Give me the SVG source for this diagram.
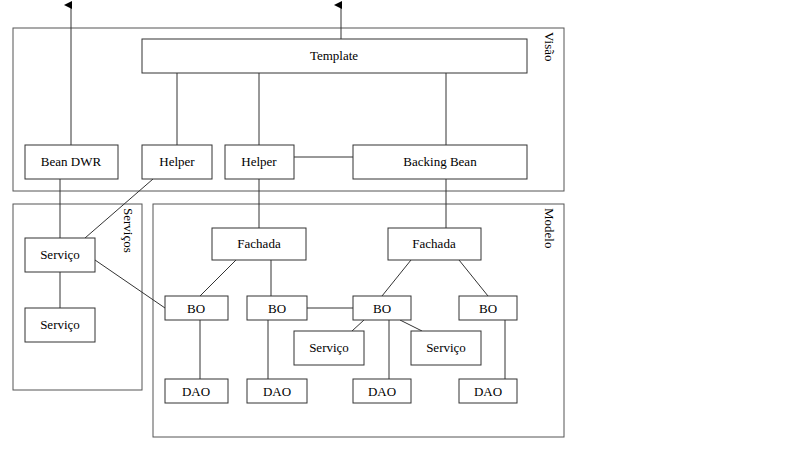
<svg xmlns="http://www.w3.org/2000/svg" width="800" height="449" viewBox="0 0 800 449">
<style>
.b{fill:#fff;stroke:#333;stroke-width:1}
.f{fill:none;stroke:#555;stroke-width:1}
text{font-family:"Liberation Serif",serif;font-size:13px;fill:#000;text-anchor:middle}
.r{text-anchor:start}
#c line{stroke:#333;stroke-width:1}
</style>
<defs><marker id="a" markerWidth="8" markerHeight="8" refX="4" refY="7" orient="auto" markerUnits="userSpaceOnUse"><path d="M0,8L4,0L8,8Z" fill="#000"/></marker></defs>
<rect width="800" height="449" fill="#fff"/>
<g id="visao"><rect class="f" x="13" y="28" width="551" height="163"/><text class="r" transform="translate(545,32) rotate(90)">Visão</text></g>
<g id="servicos"><rect class="f" x="13" y="204" width="129" height="186"/><text class="r" transform="translate(124,208) rotate(90)">Serviços</text></g>
<g id="modelo"><rect class="f" x="153" y="204" width="411" height="233"/><text class="r" transform="translate(545,208) rotate(90)">Modelo</text></g>
<g id="c">
<line x1="71" y1="145" x2="71" y2="5" marker-end="url(#a)"/>
<line x1="341" y1="39" x2="341" y2="5" marker-end="url(#a)"/>
<line x1="177" y1="73" x2="177" y2="145"/>
<line x1="259" y1="73" x2="259" y2="145"/>
<line x1="446" y1="73" x2="446" y2="145"/>
<line x1="294" y1="157" x2="353" y2="157"/>
<line x1="259" y1="179" x2="259" y2="228"/>
<line x1="446" y1="179" x2="446" y2="228"/>
<line x1="60" y1="179" x2="60" y2="238"/>
<line x1="60" y1="272" x2="60" y2="308"/>
<line x1="153" y1="179" x2="85" y2="238"/>
<line x1="95" y1="260" x2="165" y2="308"/>
<line x1="236" y1="260" x2="200" y2="296"/>
<line x1="271" y1="260" x2="271" y2="296"/>
<line x1="411" y1="260" x2="382" y2="296"/>
<line x1="459" y1="260" x2="488" y2="296"/>
<line x1="307" y1="308" x2="353" y2="308"/>
<line x1="364" y1="320" x2="352" y2="331"/>
<line x1="400" y1="320" x2="422" y2="331"/>
<line x1="200" y1="320" x2="200" y2="379"/>
<line x1="268" y1="320" x2="268" y2="379"/>
<line x1="389" y1="320" x2="389" y2="379"/>
<line x1="505" y1="320" x2="505" y2="379"/>
</g>
<g id="template"><rect class="b" x="142" y="39" width="385" height="34"/><text x="334" y="60">Template</text></g>
<g id="beandwr"><rect class="b" x="25" y="145" width="93" height="34"/><text x="71" y="166">Bean DWR</text></g>
<g id="helper1"><rect class="b" x="142" y="145" width="70" height="34"/><text x="177" y="166">Helper</text></g>
<g id="helper2"><rect class="b" x="225" y="145" width="69" height="34"/><text x="259" y="166">Helper</text></g>
<g id="backing"><rect class="b" x="353" y="145" width="174" height="34"/><text x="440" y="166">Backing Bean</text></g>
<g id="fachada1"><rect class="b" x="212" y="228" width="94" height="32"/><text x="259" y="248">Fachada</text></g>
<g id="fachada2"><rect class="b" x="388" y="228" width="93" height="32"/><text x="434" y="248">Fachada</text></g>
<g id="serv1"><rect class="b" x="25" y="238" width="70" height="34"/><text x="60" y="259">Serviço</text></g>
<g id="serv2"><rect class="b" x="25" y="308" width="70" height="34"/><text x="60" y="329">Serviço</text></g>
<g id="bo1"><rect class="b" x="165" y="296" width="63" height="24"/><text x="196" y="313">BO</text></g>
<g id="bo2"><rect class="b" x="247" y="296" width="60" height="24"/><text x="277" y="313">BO</text></g>
<g id="bo3"><rect class="b" x="353" y="296" width="58" height="24"/><text x="382" y="313">BO</text></g>
<g id="bo4"><rect class="b" x="459" y="296" width="58" height="24"/><text x="488" y="313">BO</text></g>
<g id="serv3"><rect class="b" x="294" y="331" width="70" height="34"/><text x="329" y="352">Serviço</text></g>
<g id="serv4"><rect class="b" x="411" y="331" width="70" height="34"/><text x="446" y="352">Serviço</text></g>
<g id="dao1"><rect class="b" x="165" y="379" width="63" height="24"/><text x="196" y="396">DAO</text></g>
<g id="dao2"><rect class="b" x="247" y="379" width="60" height="24"/><text x="277" y="396">DAO</text></g>
<g id="dao3"><rect class="b" x="353" y="379" width="58" height="24"/><text x="382" y="396">DAO</text></g>
<g id="dao4"><rect class="b" x="459" y="379" width="58" height="24"/><text x="488" y="396">DAO</text></g>
</svg>
